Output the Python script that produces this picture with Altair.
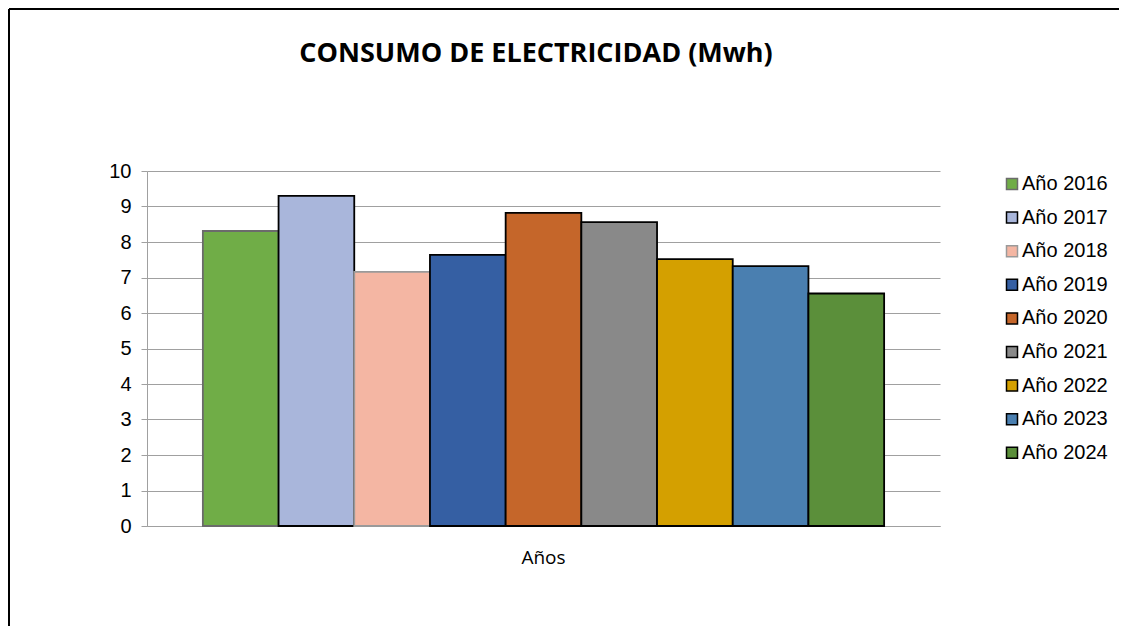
import altair as alt
import pandas as pd

years = ["Año 2016", "Año 2017", "Año 2018", "Año 2019", "Año 2020",
         "Año 2021", "Año 2022", "Año 2023", "Año 2024"]
values = [8.31, 9.30, 7.16, 7.64, 8.82, 8.56, 7.52, 7.32, 6.55]
fill_colors = ["#70AD47", "#A9B6DB", "#F4B6A3", "#355FA3", "#C5662A",
               "#898989", "#D4A000", "#4A7FB0", "#5B8F3A"]
stroke_colors = ["#6b6b6b", "#000000", "#9a9a9a", "#000000", "#000000",
                 "#000000", "#000000", "#000000", "#000000"]
category = "Años"
title_text = "CONSUMO DE ELECTRICIDAD (Mwh)"

df = pd.DataFrame({"cat": [category] * len(years), "year": years, "value": values})
one = pd.DataFrame({"t": [title_text]})

legend = alt.Legend(
    title=None, orient="none", legendX=855, legendY=3,
    symbolType="square", symbolSize=121, symbolStrokeWidth=1.5,
    labelFont="Liberation Sans", labelFontSize=20, labelColor="black",
    rowPadding=13.6, labelOffset=0, labelLimit=200,
)

bars = alt.Chart(df).mark_bar(strokeWidth=1.8).encode(
    x=alt.X("cat:N", title=None,
            scale=alt.Scale(paddingInner=0, paddingOuter=0.082),
            axis=alt.Axis(labelAngle=0, ticks=False, labelPadding=22,
                          labelFont="Open Sans", labelFontSize=19,
                          labelColor="black", domainColor="#a0a0a0",
                          domainWidth=1)),
    xOffset=alt.XOffset("year:N", sort=years,
                        scale=alt.Scale(paddingInner=0, paddingOuter=0)),
    y=alt.Y("value:Q", title=None,
            scale=alt.Scale(domain=[0, 10], nice=False),
            axis=alt.Axis(values=list(range(11)), tickSize=6,
                          tickColor="#a0a0a0", domainColor="#a0a0a0",
                          gridColor="#a0a0a0", grid=True,
                          labelFont="Liberation Sans", labelFontSize=20,
                          labelColor="black", labelPadding=10)),
    color=alt.Color("year:N", sort=years,
                    scale=alt.Scale(domain=years, range=fill_colors),
                    legend=legend),
    stroke=alt.Stroke("year:N", sort=years,
                      scale=alt.Scale(domain=years, range=stroke_colors),
                      legend=legend),
)

title = alt.Chart(one).mark_text(
    font="Open Sans", fontSize=27, fontWeight="bold", color="black",
    align="center", baseline="alphabetic",
).encode(x=alt.value(389), y=alt.value(-109), text="t:N")

border_left = alt.Chart(one).mark_rule(color="black", strokeWidth=2).encode(
    x=alt.value(-138), y=alt.value(-162), y2=alt.value(470))
border_top = alt.Chart(one).mark_rule(color="black", strokeWidth=2).encode(
    x=alt.value(-138), x2=alt.value(990), y=alt.value(-162))

chart = alt.layer(bars, title, border_left, border_top).properties(
    width=793, height=355,
    autosize=alt.AutoSizeParams(type="none"),
    padding={"left": 139, "top": 163, "right": 179, "bottom": 100},
).configure_view(stroke=None).configure_axis(gridWidth=1)

chart.save("out.html", embed_options={"renderer": "svg", "actions": False})
